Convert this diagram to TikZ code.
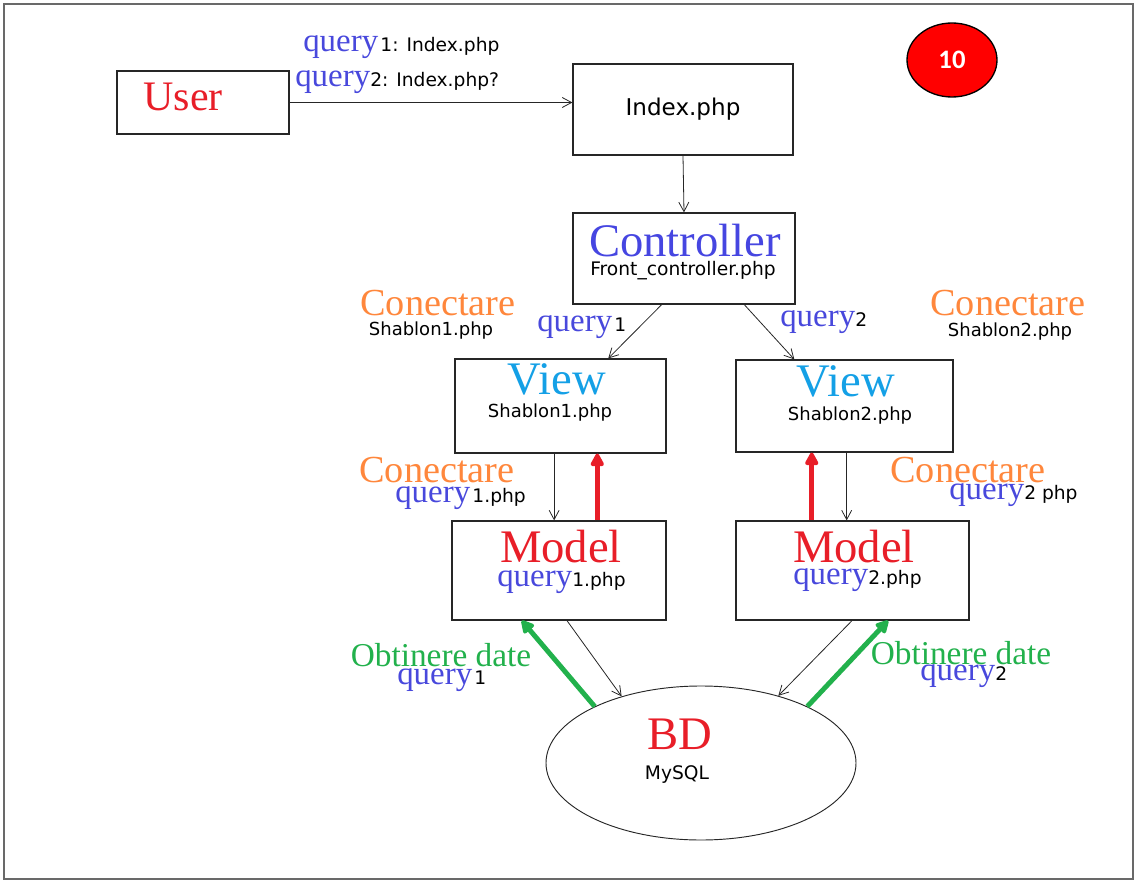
\documentclass[tikz,border=0pt]{standalone}
\usepackage{fontspec}
\setmainfont{Liberation Serif}
\newfontfamily\sansf{DejaVu Sans}
\newfontfamily\badgef{Carlito}
\usetikzlibrary{arrows.meta,calc,fit,shapes.geometric}
\definecolor{qblue}{RGB}{72,72,220}
\definecolor{cblue}{RGB}{70,70,225}
\definecolor{vblue}{RGB}{20,160,230}
\definecolor{mred}{RGB}{232,30,40}
\definecolor{corange}{RGB}{255,135,60}
\definecolor{ogreen}{RGB}{34,177,76}
\definecolor{frame}{RGB}{105,105,105}
\newcommand\Qy[1]{{\color{qblue}\rmfamily\fontsize{24.7}{25}\selectfont #1}}
\newcommand\Sm[1]{{\color{black}\sansf\fontsize{14}{14}\selectfont #1}}
\begin{document}
\begin{tikzpicture}[x=0.75pt,y=-0.75pt,
  box/.style={draw=black!85, line width=0.9pt, inner sep=0pt},
  thinarr/.style={draw=black!85, line width=0.6pt, -{Straight Barb[length=7pt,width=7.5pt]}},
  redarr/.style={draw=mred, line width=3.7pt, -{Triangle[length=11pt,width=11pt,round]}},
  greenarr/.style={draw=ogreen, line width=3.7pt, -{Triangle[length=11pt,width=11pt,round]}},
  title/.style={font=\rmfamily\fontsize{35}{35}\selectfont, anchor=base, inner sep=0pt},
  sub/.style={font=\sansf\fontsize{13.5}{14}\selectfont, anchor=base, inner sep=0pt},
  conn/.style={text=corange, font=\rmfamily\fontsize{28.7}{29}\selectfont, anchor=base, inner sep=0pt},
  obt/.style={text=ogreen, font=\rmfamily\fontsize{25}{25}\selectfont, anchor=base, inner sep=0pt},
  lbl/.style={anchor=base west, inner sep=0pt},
]
\useasboundingbox (0,0) rectangle (1136,881);
\draw[frame, line width=1.5pt] (4,4) rectangle (1133,879);

% boxes
\node[box, fit={(117,71) (289,134)}] (user) {};
\node[box, fit={(573,64) (793,155)}] (idx) {};
\node[box, fit={(573,213) (795,304)}] (ctrl) {};
\node[box, fit={(455,359) (666,453)}] (v1) {};
\node[box, fit={(736,360) (953,452)}] (v2) {};
\node[box, fit={(452,521) (666,620)}] (m1) {};
\node[box, fit={(736,521) (969,620)}] (m2) {};
\node[draw=black!85, line width=0.7pt, ellipse, inner sep=0pt, minimum width=232.5pt, minimum height=115.5pt] (bd) at (701,763) {};
\node[draw=black, line width=1pt, ellipse, fill=red, inner sep=0pt, minimum width=67.5pt, minimum height=55.5pt, text=white, font=\badgef\bfseries\fontsize{20}{20}\selectfont] (badge) at (952,60) {10};

% texts in boxes
\node[title, text=mred, font=\rmfamily\fontsize{31.5}{32}\selectfont] (tuser) at (183,111) {User};
\node[anchor=base, inner sep=0pt, font=\sansf\fontsize{17.3}{18}\selectfont] (tidx) at (683,116) {Index.php};
\node[title, text=cblue] (tctrl) at (685,256) {Controller};
\node[sub, font=\sansf\fontsize{14}{14}\selectfont] (sctrl) at (683,275) {Front\_controller.php};
\node[title, text=vblue] (tv1) at (557,394) {View};
\node[sub] (sv1) at (550,417) {Shablon1.php};
\node[title, text=vblue] (tv2) at (846,396) {View};
\node[sub] (sv2) at (850,420) {Shablon2.php};
\node[title, text=mred] (tm1) at (561,562) {Model};
\node[lbl] (sm1) at (497,586) {\Qy{query}\Sm{1.php}};
\node[title, text=mred] (tm2) at (854,562) {Model};
\node[lbl] (sm2) at (793,584) {\Qy{query}\Sm{2.php}};
\node[title, text=mred] (tbd) at (680,749) {BD};
\node[sub, font=\sansf\fontsize{14}{14}\selectfont] (sbd) at (677,779) {MySQL};

% free labels
\node[lbl] (q1) at (303,52) {\Qy{query}\,\Sm{1: Index.php}};
\node[lbl] (q2) at (295,87) {\Qy{query}\Sm{2: Index.php?}};
\node[conn] (c1) at (438,315) {Conectare};
\node[sub] (c1s) at (431,335) {Shablon1.php};
\node[lbl] (cq1) at (537,331) {\Qy{query}\,\Sm{1}};
\node[lbl] (cq2) at (780,326) {\Qy{query}\Sm{2}};
\node[conn] (c2) at (1008,315) {Conectare};
\node[sub] (c2s) at (1010,336) {Shablon2.php};
\node[conn] (c3) at (437,482) {Conectare};
\node[lbl] (c3q) at (395,502) {\Qy{query}\,\Sm{1.php}};
\node[conn] (c4) at (968,482) {Conectare};
\node[lbl] (c4q) at (949,499) {\Qy{query}\Sm{2 php}};
\node[obt] (o1) at (441,666) {Obtinere date};
\node[lbl] (o1q) at (397,684) {\Qy{query}\,\Sm{1}};
\node[obt] (o2) at (961,664) {Obtinere date};
\node[lbl] (o2q) at (920,680) {\Qy{query}\Sm{2}};

% connectors
\draw[thinarr] (user.east) -- (user.east -| idx.west);
\draw[black!85, line width=1.3pt] (user.east) -- ++(14,0);
\draw[thinarr] (idx.south) -- (ctrl.north);
\draw[thinarr] ($(ctrl.south west)!0.40!(ctrl.south east)$) -- ($(v1.north west)!0.725!(v1.north east)$);
\draw[thinarr] ($(ctrl.south west)!0.77!(ctrl.south east)$) -- ($(v2.north west)!0.27!(v2.north east)$);
\coordinate (a1) at ($(v1.south west)!0.47!(v1.south east)$);
\draw[thinarr] (a1) -- (a1 |- m1.north);
\coordinate (r1) at ($(m1.north west)!0.678!(m1.north east)$);
\draw[redarr] (r1) -- (r1 |- v1.south);
\coordinate (a2) at ($(v2.south west)!0.51!(v2.south east)$);
\draw[thinarr] (a2) -- (a2 |- m2.north);
\coordinate (r2) at ($(m2.north west)!0.326!(m2.north east)$);
\draw[redarr] (r2) -- (r2 |- v2.south);
\draw[thinarr] ($(m1.south west)!0.537!(m1.south east)$) -- (bd.140);
\draw[thinarr] ($(m2.south west)!0.498!(m2.south east)$) -- (bd.41);
\draw[greenarr] (bd.152) -- ($(m1.south west)!0.327!(m1.south east)$);
\draw[greenarr] (bd.28) -- ($(m2.south west)!0.652!(m2.south east)$);
\end{tikzpicture}
\end{document}
